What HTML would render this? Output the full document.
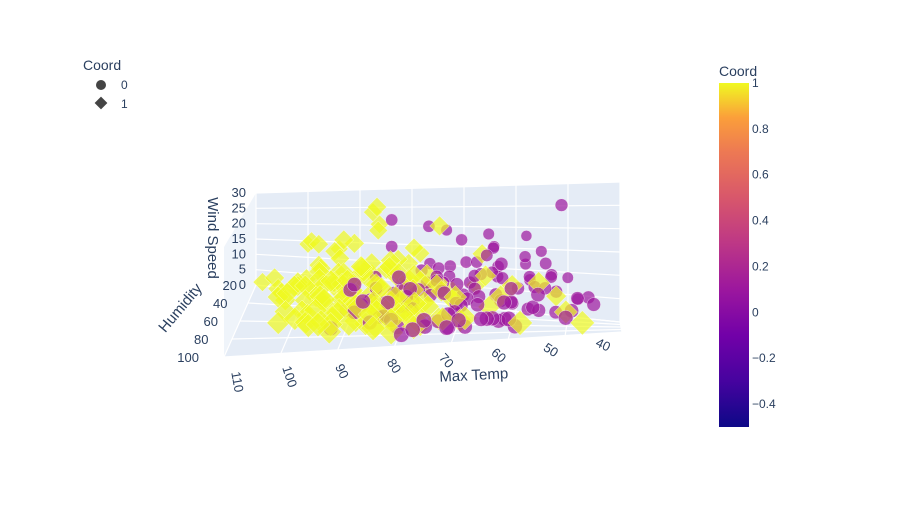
<!DOCTYPE html>
<html><head><meta charset="utf-8"><style>
body{margin:0;background:#fff;}
svg{display:block;font-family:"Liberation Sans",Arial,sans-serif;}
</style></head><body>
<svg id="chart" width="902" height="516" viewBox="0 0 902 516" xmlns="http://www.w3.org/2000/svg">
<defs>
<linearGradient id="plasma" x1="0" y1="1" x2="0" y2="0">
<stop offset="0" stop-color="#0d0887"/><stop offset="0.133" stop-color="#46039f"/><stop offset="0.267" stop-color="#7201a8"/><stop offset="0.4" stop-color="#9c179e"/><stop offset="0.533" stop-color="#bd3786"/><stop offset="0.667" stop-color="#d8576b"/><stop offset="0.8" stop-color="#ed7953"/><stop offset="0.9" stop-color="#fb9f3a"/><stop offset="1" stop-color="#f0f921"/>
</linearGradient>
</defs>
<g id="scene"></g>
<g id="legend">
<text x="83" y="70" font-size="14" fill="#2a3f5f">Coord</text>
<g><circle cx="101" cy="85" r="5" fill="#444"/><text x="121" y="89" font-size="12" fill="#2a3f5f">0</text></g>
<g><rect x="96.5" y="98.5" width="9" height="9" fill="#444" transform="rotate(45 101 103)"/><text x="121" y="108" font-size="12" fill="#2a3f5f">1</text></g>
</g>
<g id="colorbar">
<text x="719" y="76" font-size="14" fill="#2a3f5f">Coord</text>
<rect x="719" y="83" width="30" height="344" fill="url(#plasma)"/>
</g>
</svg>
<script>
const temps0=[48,52,55,58,60,62,63,65,66,68,70,72,74,75,76,78,80,82,84,86,50,54,57,61,64,67,69,71,73,77,79,81,83,85,88,46,49,53,56,59,62,65,68,71,74,77,80,83,86,89,51,55,60,64,69,73,78,82,58,63,
52,55,57,60,62,64,66,67,69,70,72,73,75,76,78,79,81,83,85,87,48,53,56,59,61,63,65,68,70,71,74,76,77,80,82,84,86,58,62,66,45,50,54,57,60,63,67,70,73,75,78,80,83,88,90,92,64,69,72,76];
const hums0=[40,60,80,30,70,50,90,45,65,85,35,75,55,95,40,60,80,50,70,90,25,45,65,85,35,55,75,95,30,50,70,90,40,60,80,55,75,35,50,90,60,30,70,85,45,65,88,40,60,75,50,30,70,90,40,60,80,55,20,45,
50,70,40,60,85,45,75,55,90,65,40,80,60,50,70,95,45,65,85,75,60,45,75,55,80,40,90,50,70,85,55,45,95,65,80,60,40,35,65,50,70,85,55,45,95,60,40,80,50,90,65,55,75,80,70,85,30,60,45,35];
const winds0=[5,3,8,12,6,10,4,15,7,2,18,9,11,5,22,8,14,6,3,10,9,13,4,7,16,11,6,3,20,12,8,5,24,9,13,6,4,10,8,2,14,19,7,5,12,9,3,17,6,11,26,15,9,4,13,8,11,7,18,10,
7,4,9,5,3,11,6,8,4,10,12,3,7,9,5,2,8,6,4,7,6,10,5,8,3,12,4,9,6,2,10,7,3,5,8,4,9,14,6,11,5,3,8,10,4,7,13,5,9,3,6,8,4,6,5,3,16,7,10,12];
const temps1=[108,105,103,100,98,96,95,94,93,92,91,90,89,88,87,86,85,84,83,82,81,80,79,78,77,76,75,74,73,72,100,97,95,93,91,89,87,85,83,81,79,77,102,99,96,94,92,90,88,86,84,82,80,78,70,68,65,62,58,55,52,50,47,66,60,72,94,98,90,86,
104,102,101,99,97,96,95,94,93,92,91,90,89,88,87,86,85,84,83,82,103,100,98,97,95,93,92,90,89,87,86,84,83,81,80,79,78,77,76,75,101,99,98,96,94,93,91,90,88,87,85,84,82,81,80,79,78,76,74,73,100,97,95,92,89,86,83,80,77,74,71,69,67,64,96,91,88,85,82,79];
const hums1=[30,40,50,60,70,45,80,35,55,90,65,40,75,50,85,30,60,95,45,70,55,80,35,65,90,50,75,40,60,85,20,35,55,65,80,45,30,70,50,90,60,85,75,25,50,90,40,65,55,35,80,45,70,60,75,85,55,65,95,70,50,80,90,40,60,30,20,60,45,25,
45,55,65,75,35,60,50,70,40,80,55,65,45,75,35,60,50,85,40,70,60,50,40,75,65,55,85,45,70,35,80,60,50,90,40,65,75,55,85,45,70,40,60,50,80,35,65,55,75,45,85,40,60,70,50,80,30,65,55,75,50,70,60,40,80,55,65,35,75,50,60,80,45,70,85,75,45,65,35,55];
const winds1=[4,8,6,10,5,12,7,15,9,3,11,18,6,13,8,20,10,4,14,7,12,5,16,9,3,11,6,22,8,4,14,17,9,12,6,10,25,7,13,5,11,8,3,16,12,5,19,9,14,27,6,10,7,12,8,4,11,7,3,10,6,4,2,15,9,5,13,10,8,21,
6,5,9,4,11,7,3,8,10,5,6,12,4,7,9,5,8,3,11,6,7,9,5,3,8,10,4,6,7,12,3,9,5,2,8,6,4,10,3,7,5,8,6,10,4,13,7,5,3,9,6,11,4,8,7,5,14,6,9,3,8,4,6,10,3,7,5,12,4,9,6,3,8,5,4,6,11,5,13,7];
const tempTicks=[110,100,90,80,70,60,50,40];
const humTicks=[20,40,60,80,100];
const windTicks=[0,5,10,15,20,25,30];
const cbTicks=[1,0.8,0.6,0.4,0.2,0,-0.2,-0.4];

const NS='http://www.w3.org/2000/svg';
const scene=document.getElementById('scene');
const L=(a,b,t)=>a+(b-a)*t;
function proj(temp,hum,wind){
  const t=(110-temp)/70,h=(hum-20)/80,w=wind/30;
  const bx=L(256,620,t),by=L(285,322,t),fx=L(224,622,t),fy=L(357,332,t);
  const x=L(bx,fx,h),y0=L(by,fy,h);
  const H=L(L(92,140,t),L(110,150,t),h);
  return [x,y0-w*H,h];
}
function mk(tag,attrs,parent){const e=document.createElementNS(NS,tag);for(const k in attrs)e.setAttribute(k,attrs[k]);(parent||scene).appendChild(e);return e;}
function pts(arr){return arr.map(p=>p[0].toFixed(1)+','+p[1].toFixed(1)).join(' ');}
const back=mk('polygon',{points:pts([proj(110,20,30),proj(40,20,30),proj(40,20,0),proj(110,20,0)]),fill:'#e5ecf6'});


const left=mk('polygon',{points:pts([proj(110,20,30),proj(110,20,0),proj(110,100,0),proj(110,100,30)]),fill:'#e5ecf6',opacity:'0.6'});


const floor=mk('polygon',{points:pts([proj(110,20,0),proj(40,20,0),proj(40,100,0),proj(110,100,0)]),fill:'#e5ecf6'});


function line(a,b,nm){const l=mk('line',{x1:a[0],y1:a[1],x2:b[0],y2:b[1],stroke:'#fff','stroke-width':1.2});}
tempTicks.forEach(v=>{line(proj(v,20,0),proj(v,100,0),'grid-temp-floor');line(proj(v,20,0),proj(v,20,30),'grid-temp-wall');});
humTicks.forEach(v=>{line(proj(110,v,0),proj(40,v,0),'grid-hum-floor');});
windTicks.forEach(v=>{line(proj(110,20,v),proj(40,20,v),'grid-wind-wall');});
const all=[];
temps0.forEach((v,i)=>all.push([v,hums0[i],winds0[i],0]));
temps1.forEach((v,i)=>all.push([v,hums1[i],winds1[i],1]));
all.sort((a,b)=>a[1]-b[1]);
all.forEach(d=>{
  const p=proj(d[0],d[1],d[2]);const s=0.85+0.35*p[2];
  let e;
  if(d[3]===0){e=mk('circle',{cx:p[0].toFixed(1),cy:p[1].toFixed(1),r:(6.5*s).toFixed(1),fill:'#9c179e','fill-opacity':0.7,stroke:'#fff','stroke-width':0.5,'stroke-opacity':0.7});
    }
  else{const r=10.5*s;e=mk('polygon',{points:`${p[0]},${p[1]-r} ${p[0]+r},${p[1]} ${p[0]},${p[1]+r} ${p[0]-r},${p[1]}`,fill:'#f0f921','fill-opacity':0.7,stroke:'#fff','stroke-width':0.5,'stroke-opacity':0.7});
    }
  
});
function txt(x,y,s,attrs,nm,parent){const e=mk('text',Object.assign({x:x,y:y,'font-size':12,fill:'#2a3f5f'},attrs),parent);e.textContent=s;return e;}
windTicks.forEach(v=>{const p=proj(110,20,v);txt(246,p[1]+4,v,{'text-anchor':'end','font-size':13},'wind-tick-label');});
humTicks.forEach(v=>{const p=proj(110,v,0);const h=(v-20)/80;txt(237-38*h,p[1]+5,v,{'text-anchor':'end','font-size':13},'humidity-tick-label');});
tempTicks.forEach(v=>{const p=proj(v,100,0);const t=(110-v)/70;const cx=p[0]+13-32*t,cy=p[1]+13+12*(1-t);const rot=L(80,25,t);
  txt(cx,cy+4,v,{'text-anchor':'middle','font-size':13,transform:`rotate(${rot} ${cx} ${cy})`},'temp-tick-label');});
txt(208,238,'Wind Speed',{'font-size':15,'text-anchor':'middle',transform:'rotate(90 208 238)'},'z-axis-title');
txt(184,311,'Humidity',{'font-size':15,'text-anchor':'middle',transform:'rotate(-50 184 311)'},'y-axis-title');
txt(474,380,'Max Temp',{'font-size':15,'text-anchor':'middle',transform:'rotate(-3 474 380)'},'x-axis-title');
const cb=document.getElementById('colorbar');
cbTicks.forEach(v=>{const y=427-(v+0.5)/1.5*344;txt(752,y+4,v<0?'\u2212'+Math.abs(v):String(v),{},'colorbar-tick-label',cb);});
</script>
</body></html>
